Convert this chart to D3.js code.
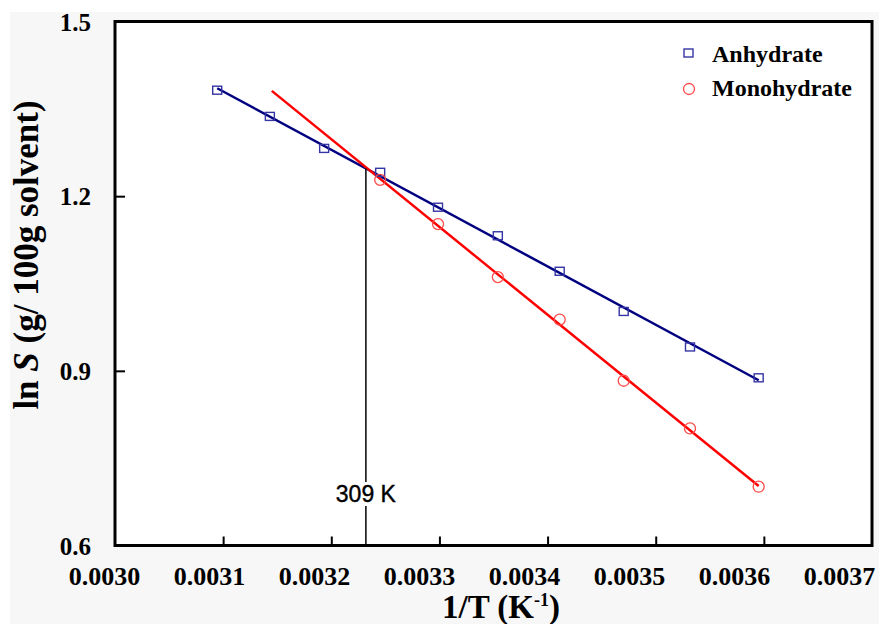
<!DOCTYPE html>
<html>
<head>
<meta charset="utf-8">
<script src="https://cdn.jsdelivr.net/npm/d3@7"></script>
<style>
  body { margin: 0; background: #fff; }
  svg { display: block; }
</style>
</head>
<body>
<div id="chart"></div>
<script>
// values
var anhydrateInvT = [0.0030945, 0.0031432, 0.0031934, 0.0032452, 0.0032987, 0.0033540, 0.0034112, 0.0034704, 0.0035317, 0.0035952];
var anhydrateLnS  = [1.382, 1.337, 1.282, 1.241, 1.181, 1.132, 1.071, 1.002, 0.941, 0.888];
var monoInvT      = [0.0032452, 0.0032987, 0.0033540, 0.0034112, 0.0034704, 0.0035317, 0.0035952];
var monoLnS       = [1.228, 1.152, 1.061, 0.988, 0.883, 0.801, 0.701];
var monoFitStart  = 0.003145;
var crossInvT     = 0.003232;
var crossLabel    = '309 K';
var xTicks = [0.0030, 0.0031, 0.0032, 0.0033, 0.0034, 0.0035, 0.0036, 0.0037];
var yTicks = [0.6, 0.9, 1.2, 1.5];
var seriesNames = ['Anhydrate', 'Monohydrate'];

var width = 879, height = 624;
var serif = '"Liberation Serif", "Times New Roman", serif';

var svg = d3.select('#chart').append('svg')
  .attr('width', width)
  .attr('height', height);

svg.append('rect')
  .attr('x', 10).attr('y', 12)
  .attr('width', width - 10).attr('height', height - 12)
  .attr('fill', '#f7f7f7');

var x = d3.scaleLinear().domain([0.0030, 0.0037]).range([115, 872]);
var y = d3.scaleLinear().domain([0.6, 1.5]).range([545.5, 21.5]);
// tick labels in the original sit on a slightly tighter spacing than the ticks
var xLabel = d3.scaleLinear().domain(x.domain()).range([104.5, 839.5]);

svg.append('rect')
  .attr('x', x(0.0030)).attr('y', y(1.5))
  .attr('width', x(0.0037) - x(0.0030)).attr('height', y(0.6) - y(1.5))
  .attr('fill', '#fff');

// least squares line
function fit(xs, ys) {
  var mx = d3.mean(xs), my = d3.mean(ys);
  var sxy = d3.sum(xs, function(v, i) { return (v - mx) * (ys[i] - my); });
  var sxx = d3.sum(xs, function(v) { return (v - mx) * (v - mx); });
  var m = sxy / sxx;
  return { m: m, b: my - m * mx };
}
var fitA = fit(anhydrateInvT, anhydrateLnS);
var fitM = fit(monoInvT, monoLnS);

var line = d3.line()
  .x(function(d) { return x(d); });

svg.append('path')
  .datum(d3.extent(anhydrateInvT))
  .attr('d', line.y(function(d) { return y(fitA.b + fitA.m * d); }))
  .attr('stroke', '#000080')
  .attr('stroke-width', 2.5)
  .attr('fill', 'none');

svg.append('path')
  .datum([monoFitStart, d3.max(monoInvT)])
  .attr('d', line.y(function(d) { return y(fitM.b + fitM.m * d); }))
  .attr('stroke', '#ff0000')
  .attr('stroke-width', 2.5)
  .attr('fill', 'none');

// crossing marker
svg.append('line')
  .attr('x1', x(crossInvT)).attr('x2', x(crossInvT))
  .attr('y1', y(fitA.b + fitA.m * crossInvT)).attr('y2', y(0.6))
  .attr('stroke', '#000')
  .attr('stroke-width', 1.5);

svg.append('rect')
  .attr('x', x(crossInvT) - 30).attr('y', 482)
  .attr('width', 60).attr('height', 24)
  .attr('fill', '#fff');

svg.append('text')
  .attr('x', x(crossInvT)).attr('y', 502)
  .attr('text-anchor', 'middle')
  .attr('font-family', '"Liberation Sans", Arial, sans-serif')
  .attr('font-size', 23)
  .attr('stroke', '#000')
  .attr('stroke-width', 0.4)
  .text(crossLabel);

// markers
svg.selectAll('.sq').data(anhydrateInvT).enter()
  .append('rect')
    .attr('class', 'sq')
    .attr('x', function(d) { return x(d) - 4.5; })
    .attr('y', function(d, i) { return y(anhydrateLnS[i]) - 4; })
    .attr('width', 9).attr('height', 8)
    .attr('fill', 'none')
    .attr('stroke', '#3535a5')
    .attr('stroke-width', 1.4);

svg.selectAll('.ci').data(monoInvT).enter()
  .append('circle')
    .attr('class', 'ci')
    .attr('cx', function(d) { return x(d); })
    .attr('cy', function(d, i) { return y(monoLnS[i]); })
    .attr('r', 5.5)
    .attr('fill', 'none')
    .attr('stroke', '#ff4a4a')
    .attr('stroke-width', 1.3);

// inward ticks
svg.append('g')
  .attr('transform', 'translate(0,' + y(0.6) + ')')
  .call(d3.axisBottom(x).tickValues(xTicks.slice(1, -1)).tickSize(-9).tickFormat(''))
  .call(function(g) { g.select('.domain').remove(); })
  .selectAll('line').attr('stroke-width', 2);

svg.append('g')
  .attr('transform', 'translate(' + x(0.0030) + ',0)')
  .call(d3.axisLeft(y).tickValues(yTicks.slice(1, -1)).tickSize(-10).tickFormat(''))
  .call(function(g) { g.select('.domain').remove(); })
  .selectAll('line').attr('stroke-width', 2);

svg.append('rect')
  .attr('x', x(0.0030)).attr('y', y(1.5))
  .attr('width', x(0.0037) - x(0.0030)).attr('height', y(0.6) - y(1.5))
  .attr('fill', 'none')
  .attr('stroke', '#000')
  .attr('stroke-width', 3);

// tick labels
svg.selectAll('.xl').data(xTicks).enter()
  .append('text')
    .attr('class', 'xl')
    .attr('x', function(d) { return xLabel(d); })
    .attr('y', 585)
    .attr('text-anchor', 'middle')
    .attr('font-family', serif)
    .attr('font-weight', 'bold')
    .attr('font-size', 26)
    .text(function(d) { return d3.format('.4f')(d); });

svg.selectAll('.yl').data(yTicks).enter()
  .append('text')
    .attr('class', 'yl')
    .attr('x', 91)
    .attr('y', function(d) { return y(d) + 9; })
    .attr('text-anchor', 'end')
    .attr('font-family', serif)
    .attr('font-weight', 'bold')
    .attr('font-size', 25)
    .text(function(d) { return d3.format('.1f')(d); });

// axis titles
var xt = svg.append('text')
  .attr('x', 501).attr('y', 618)
  .attr('text-anchor', 'middle')
  .attr('font-family', serif)
  .attr('font-weight', 'bold')
  .attr('font-size', 33);
xt.append('tspan').text('1/T (K');
xt.append('tspan').attr('dy', -12).attr('font-size', 18).text('-1');
xt.append('tspan').attr('dy', 12).text(')');

var yt = svg.append('text')
  .attr('transform', 'translate(38,255) rotate(-90)')
  .attr('text-anchor', 'middle')
  .attr('font-family', serif)
  .attr('font-weight', 'bold')
  .attr('font-size', 35);
yt.append('tspan').text('ln ');
yt.append('tspan').attr('font-style', 'italic').text('S');
yt.append('tspan').text(' (g/ 100g solvent)');

// legend
var legend = svg.append('g')
  .attr('font-family', serif)
  .attr('font-weight', 'bold')
  .attr('font-size', 24);

legend.append('rect')
  .attr('x', 684).attr('y', 49)
  .attr('width', 9).attr('height', 8)
  .attr('fill', 'none')
  .attr('stroke', '#3535a5')
  .attr('stroke-width', 1.4);
legend.append('circle')
  .attr('cx', 689).attr('cy', 89).attr('r', 5.5)
  .attr('fill', 'none')
  .attr('stroke', '#ff4a4a')
  .attr('stroke-width', 1.3);

legend.selectAll('text').data(seriesNames).enter()
  .append('text')
    .attr('x', 712)
    .attr('y', function(d, i) { return 62 + i * 34; })
    .text(function(d) { return d; });
</script>
</body>
</html>
